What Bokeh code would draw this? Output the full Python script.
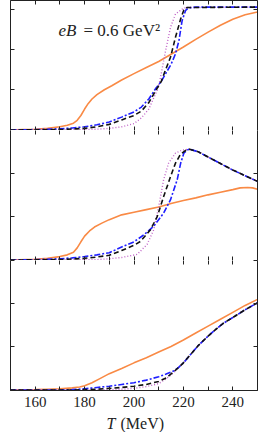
from bokeh.plotting import figure
from bokeh.layouts import column
from bokeh.models import Range1d, LinearAxis, FixedTicker, Label, CustomJSTickFormatter
from bokeh.embed import file_html
from bokeh.resources import INLINE

# ---------------- axes / ticks ----------------
T_RANGE = (150, 250)
X_MAJOR = [160, 180, 200, 220, 240]
X_MINOR = [150, 170, 190, 210, 230, 250]
Y_TICKS = [0, 1, 2, 3]
X_TITLE_ITALIC = "T"
X_TITLE_REST = "(MeV)"
PANEL_TEXT_ITALIC = "eB"
PANEL_TEXT_REST = "= 0.6 GeV\u00b2"

# ---------------- top panel ----------------
top_orange_T = [150, 155, 160, 165, 170, 173, 175.5, 177, 178.5, 180, 181.5, 183, 185, 188, 191, 195, 200, 205, 210, 215, 220, 225, 230, 235, 240, 245, 250]
top_orange_v = [0.0, 0.01, 0.02, 0.04, 0.08, 0.12, 0.17, 0.24, 0.36, 0.52, 0.66, 0.77, 0.88, 1.0, 1.1, 1.24, 1.4, 1.55, 1.7, 1.88, 2.06, 2.25, 2.43, 2.6, 2.75, 2.86, 2.93]

top_blue_T = [150, 160, 170, 175, 180, 185, 190, 195, 200, 203, 206, 209, 211, 213, 215, 216.8, 218.2, 219.5, 220.9, 222, 225, 250]
top_blue_v = [0.0, 0.01, 0.03, 0.05, 0.08, 0.13, 0.2, 0.32, 0.45, 0.57, 0.77, 1.05, 1.2, 1.42, 1.63, 1.89, 2.22, 2.72, 2.97, 3.03, 3.05, 3.05]

top_black_T = [150, 170, 180, 185, 190, 195, 200, 203, 206, 209, 211, 212.5, 214.8, 216.8, 218.9, 220.2, 221.5, 250]
top_black_v = [0.0, 0.01, 0.04, 0.08, 0.14, 0.25, 0.36, 0.47, 0.68, 1.0, 1.2, 1.45, 1.81, 2.3, 2.76, 2.98, 3.04, 3.05]

top_purple_T = [150, 180, 185, 190, 195, 200, 203, 206, 208, 209.5, 210.5, 212.8, 214.8, 216.8, 219.5, 221, 250]
top_purple_v = [0.0, 0.01, 0.02, 0.04, 0.08, 0.16, 0.3, 0.52, 0.8, 1.0, 1.23, 1.97, 2.55, 2.88, 3.0, 3.04, 3.05]

# ---------------- middle panel ----------------
mid_orange_T = [150, 160, 165, 170, 173, 175.5, 177, 178.5, 180, 182, 184, 187, 190, 195, 200, 205, 210, 215, 220, 225, 230, 235, 240, 243, 246, 248, 250]
mid_orange_v = [0.0, 0.02, 0.04, 0.08, 0.12, 0.18, 0.28, 0.42, 0.55, 0.67, 0.76, 0.85, 0.93, 1.04, 1.1, 1.16, 1.22, 1.3, 1.37, 1.43, 1.5, 1.56, 1.62, 1.66, 1.67, 1.66, 1.63]

mid_blue_T = [150, 160, 170, 175, 180, 185, 190, 195, 200, 204, 208, 212, 214.8, 217.5, 218.9, 220.2, 221.5, 222.5, 226, 230, 235, 240, 245, 250]
mid_blue_v = [0.0, 0.01, 0.03, 0.05, 0.08, 0.12, 0.17, 0.3, 0.42, 0.58, 0.78, 1.08, 1.39, 1.85, 2.23, 2.46, 2.53, 2.55, 2.49, 2.37, 2.22, 2.07, 1.94, 1.81]

mid_black_T = [150, 170, 180, 185, 190, 195, 200, 202.6, 206.7, 209.4, 212, 214.8, 216.8, 218.9, 220.9, 222.5, 226, 230, 235, 240, 245, 250]
mid_black_v = [0.0, 0.01, 0.04, 0.07, 0.11, 0.22, 0.34, 0.43, 0.7, 1.0, 1.46, 1.92, 2.23, 2.44, 2.52, 2.55, 2.49, 2.37, 2.22, 2.07, 1.94, 1.81]

mid_purple_T = [150, 185, 190, 195, 201.3, 205.3, 208, 210, 212, 214, 216.8, 219.5, 222.5, 226, 230, 235, 240, 245, 250]
mid_purple_v = [0.0, 0.01, 0.03, 0.06, 0.13, 0.36, 0.7, 1.23, 1.85, 2.23, 2.46, 2.53, 2.55, 2.49, 2.37, 2.22, 2.07, 1.94, 1.81]

# ---------------- bottom panel ----------------
bot_orange_T = [150, 160, 165, 170, 175, 178, 180, 183, 186, 190, 195, 200, 205, 210, 215, 220, 225, 230, 235, 240, 245, 250]
bot_orange_v = [0.0, 0.01, 0.02, 0.03, 0.05, 0.07, 0.1, 0.17, 0.26, 0.38, 0.5, 0.63, 0.75, 0.88, 1.01, 1.16, 1.32, 1.48, 1.64, 1.8, 1.96, 2.1]

bot_blue_T = [150, 170, 175, 180, 185, 190, 195, 200, 205, 210, 213, 216, 218, 220, 223, 226, 230, 233, 236, 240, 245, 250]
bot_blue_v = [0.0, 0.0, 0.01, 0.03, 0.06, 0.09, 0.13, 0.17, 0.23, 0.31, 0.37, 0.44, 0.52, 0.63, 0.83, 1.03, 1.25, 1.4, 1.54, 1.68, 1.86, 2.02]

bot_black_T = [150, 175, 180, 185, 190, 195, 200, 205, 210, 213, 216, 218, 220, 223, 226, 230, 233, 236, 240, 245, 250]
bot_black_v = [0.0, 0.0, 0.01, 0.02, 0.04, 0.06, 0.09, 0.13, 0.2, 0.28, 0.42, 0.52, 0.63, 0.83, 1.03, 1.25, 1.4, 1.54, 1.68, 1.86, 2.02]

bot_purple_T = [150, 185, 190, 195, 200, 205, 210, 213, 216, 218, 220, 223, 226, 230, 233, 236, 240, 245, 250]
bot_purple_v = [0.0, 0.0, 0.01, 0.02, 0.04, 0.08, 0.15, 0.26, 0.4, 0.52, 0.63, 0.83, 1.03, 1.25, 1.4, 1.54, 1.68, 1.86, 2.02]

ORANGE = "#f98a45"
BLUE = "#1f1fff"
BLACK = "#111111"
PURPLE = "#c064c8"
FRAME = "#222222"
SERIF = "Liberation Serif"


def add_axis(p, loc, line=True, labels=False):
    if loc in ("above", "below"):
        ticker = FixedTicker(ticks=X_MAJOR, minor_ticks=X_MINOR)
    else:
        ticker = FixedTicker(ticks=Y_TICKS)
    ax = LinearAxis(ticker=ticker)
    ax.major_tick_in = 4
    ax.major_tick_out = 0
    ax.minor_tick_in = 4
    ax.minor_tick_out = 0
    ax.axis_line_color = FRAME if line else None
    ax.axis_line_width = 1
    ax.major_tick_line_color = FRAME
    ax.minor_tick_line_color = FRAME
    if labels:
        ax.major_label_text_font = SERIF
        ax.major_label_text_font_size = "15px"
        ax.major_label_text_color = "#222222"
        ax.major_label_standoff = 6
    else:
        ax.formatter = CustomJSTickFormatter(code="return '';")
        ax.major_label_text_font_size = "1px"
        ax.major_label_standoff = 0
    p.add_layout(ax, loc)
    return ax


def make_panel(frame_h, y_lo, y_hi, top_line, bottom_labels, min_bottom):
    p = figure(frame_width=247, frame_height=frame_h,
               x_range=Range1d(*T_RANGE), y_range=Range1d(y_lo, y_hi),
               output_backend="svg", toolbar_location=None,
               x_axis_location=None, y_axis_location=None,
               min_border_left=10, min_border_right=1,
               min_border_top=0, min_border_bottom=min_bottom)
    p.outline_line_color = None
    p.grid.visible = False
    p.background_fill_color = "white"
    p.border_fill_color = "white"
    add_axis(p, "left")
    add_axis(p, "right")
    add_axis(p, "above", line=top_line)
    add_axis(p, "below", labels=bottom_labels)
    return p


def draw(p, oT, ov, pT, pv, bT, bv, kT, kv):
    p.line(oT, ov, line_color=ORANGE, line_width=1.6)
    p.line(pT, pv, line_color=PURPLE, line_width=1.4, line_dash="1 2")
    p.line(bT, bv, line_color=BLUE, line_width=1.6, line_dash="6 2 2 2")
    p.line(kT, kv, line_color=BLACK, line_width=1.6, line_dash="5 3")


p1 = make_panel(130, -0.012, 3.214, True, False, 0)
draw(p1, top_orange_T, top_orange_v, top_purple_T, top_purple_v,
     top_blue_T, top_blue_v, top_black_T, top_black_v)
p1.add_layout(Label(x=48, y=100, x_units="screen", y_units="screen",
                    text=PANEL_TEXT_ITALIC, text_font=SERIF, text_font_style="italic",
                    text_font_size="17px", text_baseline="middle", text_color="#222222"))
p1.add_layout(Label(x=73, y=100, x_units="screen", y_units="screen",
                    text=PANEL_TEXT_REST, text_font=SERIF,
                    text_font_size="17px", text_baseline="middle", text_color="#222222"))

p2 = make_panel(130, -0.01, 2.98, False, False, 0)
draw(p2, mid_orange_T, mid_orange_v, mid_purple_T, mid_purple_v,
     mid_blue_T, mid_blue_v, mid_black_T, mid_black_v)

p3 = make_panel(130, -0.01, 3.0, False, True, 23)
draw(p3, bot_orange_T, bot_orange_v, bot_purple_T, bot_purple_v,
     bot_blue_T, bot_blue_v, bot_black_T, bot_black_v)

# strip holding the x-axis title (italic T + upright unit)
p4 = figure(frame_width=247, frame_height=19, x_range=Range1d(*T_RANGE), y_range=Range1d(0, 1),
            output_backend="svg", toolbar_location=None,
            x_axis_location=None, y_axis_location=None,
            min_border_left=10, min_border_right=1, min_border_top=0, min_border_bottom=0)
p4.outline_line_color = None
p4.grid.visible = False
p4.add_layout(Label(x=96, y=9, x_units="screen", y_units="screen",
                    text=X_TITLE_ITALIC, text_font=SERIF, text_font_style="italic",
                    text_font_size="16px", text_baseline="middle", text_color="#222222"))
p4.add_layout(Label(x=110, y=9, x_units="screen", y_units="screen",
                    text=X_TITLE_REST, text_font=SERIF,
                    text_font_size="16px", text_baseline="middle", text_color="#222222"))

layout = column(p1, p2, p3, p4, spacing=0)

open("out.html", "w").write(file_html(layout, INLINE))
